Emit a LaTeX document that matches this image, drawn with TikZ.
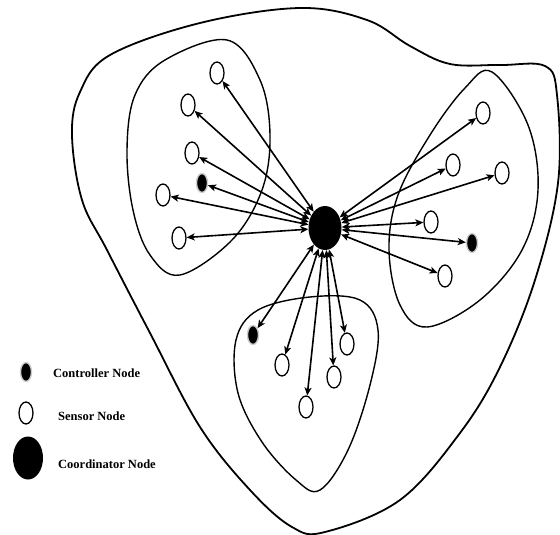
\documentclass[tikz,border=0pt]{standalone}
\usepackage{fontspec}
\setmainfont{Liberation Serif}
\usetikzlibrary{shapes.geometric,arrows.meta}
\tikzset{
  sensor/.style={ellipse,draw=black,line width=1.3pt,fill=white,inner sep=0pt,minimum width=14pt,minimum height=22pt},
  controller/.style={ellipse,draw=gray!40,line width=1.4pt,fill=black,inner sep=0pt,minimum width=11pt,minimum height=19pt},
  coordnode/.style={ellipse,fill=black,inner sep=0pt,minimum width=33pt,minimum height=44pt},
  link/.style={line width=1.6pt,{Stealth[length=8pt,width=7pt,inset=2pt]}-{Stealth[length=8pt,width=7pt,inset=2pt]}},
  region/.style={line width=1.4pt},
  outer/.style={line width=1.8pt},
  legend/.style={anchor=west,font=\fontsize{12.5}{14}\selectfont\bfseries,inner sep=0pt}
}
\begin{document}
\begin{tikzpicture}[x=1pt,y=-1pt]
\useasboundingbox (0,0) rectangle (560,535);
% outer boundary
\draw[outer] plot[smooth cycle,tension=0.6] coordinates {
 (300,8) (367,20) (410,46) (450,64) (500,65) (545,66) (557,95) (558,183) (535,280)
 (500,367) (460,433) (400,500) (325,532) (292,527) (250,490) (200,427) (150,333)
 (107,250) (82,200) (72,135) (80,92) (110,55) (200,23)};
% left cluster
\draw[region] plot[smooth cycle,tension=0.6] coordinates {
 (227,40) (260,80) (270,135) (262,190) (232,240) (180,275) (150,255) (133,210) (127,150) (135,95) (165,60)};
% right cluster
\draw[region] plot[smooth cycle,tension=0.6] coordinates {
 (492,72) (528,125) (538,190) (522,250) (480,300) (427,327) (400,305) (389,250) (398,195) (430,135) (465,88)};
% bottom cluster
\draw[region] plot[smooth cycle,tension=0.6] coordinates {
 (258,310) (310,297) (360,300) (378,330) (370,385) (348,450) (320,490) (296,480) (262,442) (238,393) (236,340)};

% coordinator
\node[coordnode] (C) at (325,228) {};
% left cluster nodes
\node[sensor] (L1) at (217,73) {};
\node[sensor] (L2) at (188,105) {};
\node[sensor] (L3) at (192,153) {};
\node[controller] (LC) at (202,183) {};
\node[sensor] (L4) at (163,195) {};
\node[sensor] (L5) at (179,238) {};
% right cluster nodes
\node[sensor] (R1) at (483,113) {};
\node[sensor] (R2) at (453,165) {};
\node[sensor] (R3) at (502,173) {};
\node[sensor] (R4) at (431,222) {};
\node[controller] (RC) at (472,243) {};
\node[sensor] (R5) at (445,276) {};
% bottom cluster nodes
\node[controller] (BC) at (253,335) {};
\node[sensor] (B1) at (282,365) {};
\node[sensor] (B2) at (306,407) {};
\node[sensor] (B3) at (334,377) {};
\node[sensor] (B4) at (347,344) {};

\foreach \n in {L1,L2,L3,LC,L4,L5,R1,R2,R3,R4,RC,R5,BC,B1,B2,B3,B4}
  \draw[link] (C) -- (\n);

% legend
\node[controller] (k1) at (26,372) {};
\node[legend] (t1) at (53,373) {Controller Node};
\node[sensor] (k2) at (26,413) {};
\node[legend] (t2) at (58,416) {Sensor Node};
\node[coordnode,minimum width=30pt,minimum height=43pt] (k3) at (28,458) {};
\node[legend] (t3) at (58,464) {Coordinator Node};
\end{tikzpicture}
\end{document}
